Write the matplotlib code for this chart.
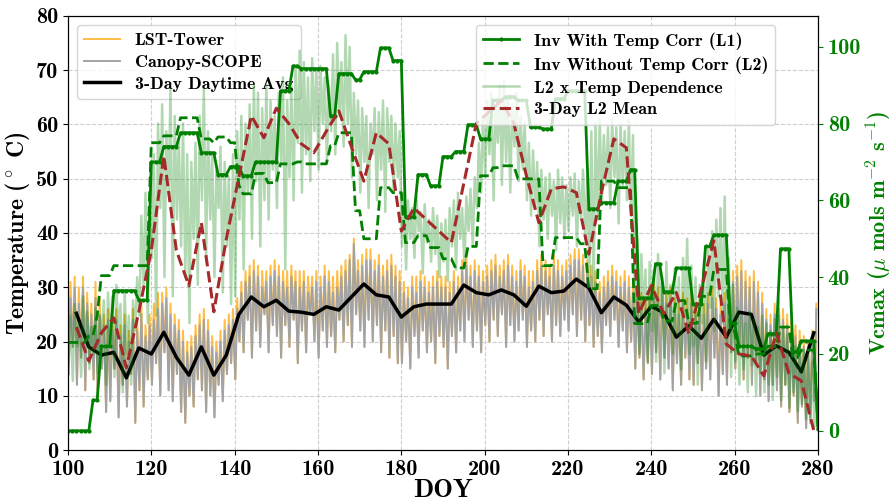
import numpy as np
import matplotlib
matplotlib.use("Agg")
import matplotlib.pyplot as plt

plt.rcParams['font.family'] = 'cmb10'
plt.rcParams['mathtext.fontset'] = 'cm'
plt.rcParams['axes.unicode_minus'] = False

# daily window DOY 100..279, one morning low and one midday high per day
days = np.arange(100, 280)

canopy_lo = [14, 19, 12, 17, 11, 16, 13, 10, 15, 7,
             9, 15, 6, 12, 8, 14, 5, 11, 8, 13,
             12, 16, 10, 18, 11, 9, 14, 7, 5, 10,
             8, 13, 11, 7, 10, 6, 12, 9, 14, 16,
             13, 20, 18, 24, 17, 22, 19, 25, 18, 23,
             21, 17, 23, 19, 24, 16, 22, 18, 25, 20,
             17, 22, 19, 21, 18, 24, 20, 23, 19, 25,
             22, 19, 24, 20, 23, 18, 22, 17, 21, 16,
             16, 20, 15, 21, 17, 22, 18, 20, 16, 21,
             19, 15, 21, 18, 22, 20, 24, 19, 22, 18,
             23, 20, 24, 21, 25, 19, 23, 20, 22, 24,
             19, 22, 20, 24, 21, 25, 20, 23, 21, 24,
             22, 25, 21, 24, 20, 23, 19, 21, 18, 23,
             21, 24, 19, 22, 18, 20, 15, 17, 13, 16,
             14, 18, 13, 17, 15, 11, 16, 12, 17, 13,
             12, 16, 11, 15, 13, 17, 10, 14, 12, 18,
             15, 19, 13, 17, 12, 16, 10, 13, 9, 12,
             11, 8, 12, 7, 10, 5, 8, 4, 6, 9]
canopy_hi = [28, 30, 27, 30, 27, 25, 28, 25, 23, 24,
             22, 24, 21, 23, 20, 24, 22, 25, 21, 23,
             24, 26, 27, 28, 25, 23, 22, 20, 18, 19,
             21, 23, 24, 22, 19, 18, 20, 22, 23, 24,
             26, 29, 31, 32, 33, 32, 30, 31, 32, 33,
             32, 31, 30, 32, 31, 30, 31, 29, 30, 31,
             30, 32, 31, 29, 30, 32, 33, 35, 38, 33,
             34, 35, 35, 33, 34, 32, 33, 34, 32, 31,
             29, 28, 30, 29, 31, 30, 29, 30, 31, 30,
             30, 29, 31, 30, 33, 34, 32, 33, 32, 31,
             32, 33, 34, 32, 33, 34, 32, 31, 33, 32,
             30, 31, 33, 34, 33, 32, 34, 33, 32, 33,
             34, 35, 35, 34, 33, 32, 31, 29, 30, 31,
             32, 31, 30, 31, 30, 29, 28, 27, 26, 28,
             29, 28, 30, 27, 28, 26, 25, 27, 26, 27,
             25, 26, 25, 27, 28, 26, 25, 27, 29, 31,
             32, 33, 31, 30, 31, 29, 27, 24, 23, 25,
             26, 24, 23, 22, 21, 20, 19, 18, 20, 26]
lst_hi = [31, 32, 30, 32, 29, 27, 31, 28, 25, 26,
          24, 26, 23, 25, 22, 26, 24, 27, 23, 25,
          27, 29, 29, 30, 27, 25, 24, 22, 20, 21,
          23, 25, 26, 24, 21, 20, 22, 24, 25, 26,
          28, 31, 33, 34, 35, 34, 33, 33, 34, 35,
          34, 33, 33, 34, 33, 33, 33, 32, 32, 33,
          32, 34, 33, 32, 33, 34, 35, 36, 39, 35,
          36, 37, 37, 35, 36, 34, 35, 36, 34, 33,
          31, 30, 32, 32, 33, 32, 31, 32, 33, 32,
          32, 31, 33, 32, 35, 36, 34, 35, 34, 33,
          34, 35, 36, 34, 35, 36, 34, 33, 35, 34,
          33, 33, 35, 36, 35, 34, 36, 35, 34, 35,
          36, 37, 37, 36, 35, 34, 33, 31, 32, 33,
          34, 33, 32, 33, 32, 31, 30, 29, 28, 30,
          31, 30, 32, 29, 30, 28, 27, 29, 28, 29,
          27, 28, 27, 29, 30, 28, 27, 29, 31, 33,
          34, 35, 33, 32, 33, 31, 29, 26, 25, 27,
          28, 26, 25, 24, 23, 22, 21, 20, 22, 27]

# 3-day means
avg_doy = np.arange(102, 280, 3)
avg_temp = [25.2, 19, 17.5, 18, 13.3, 18.8, 17.7, 21.7, 17.1, 13.8,
            19, 13.8, 17.5, 25, 28.2, 26.4, 27.6, 25.6, 25.4, 25,
            26.4, 25.8, 28.2, 30.6, 28.6, 28.2, 24.5, 26.4, 26.9, 26.9,
            26.9, 30.4, 29, 28.6, 29.5, 28.6, 26.5, 30.2, 29, 29.3,
            31.5, 29.9, 25.3, 28.2, 26.7, 23.6, 26.5, 25.3, 20.8, 22.9,
            20.6, 24.1, 20.8, 25.4, 25, 17.5, 19.2, 18, 14.4, 21.6]
l2_mean = [27, 18.2, 25.5, 29.4, 16.4, 31, 47, 71.6, 47, 37.8,
           54.2, 31, 50, 66, 82, 76.3, 84, 80, 74.7, 72.4,
           78, 83.3, 74, 65, 77.6, 74.7, 52, 58, 55, 52,
           49, 64.5, 80, 83, 86, 80, 66.5, 54.2, 63, 63.5,
           62, 46, 62, 76, 73.7, 30.5, 37.8, 30.5, 36, 25.3,
           37, 49.5, 22.6, 20, 19.5, 14.3, 25.5, 15, 13, 0]

# Vcmax inversions, DOY 100..280
vc_doy = np.arange(100, 281)
vc_l1 = [0, 0, 0, 0, 0, 0, 8, 8, 22, 22,
         22, 36.5, 36.5, 36.5, 36.5, 36.5, 36.5, 34, 34, 34,
         70, 70, 70, 74, 74, 74, 74, 77.6, 77.6, 77.6,
         77.6, 77.6, 72.4, 72.4, 72.4, 72.4, 66.7, 66.7, 66.7, 68.8,
         68.8, 68.8, 66.4, 66.4, 66.4, 70, 70, 70, 70, 70,
         70, 88.5, 88.5, 88.5, 95, 95, 94.3, 94.3, 94.3, 94.3,
         94.3, 94.3, 94.3, 82, 82, 93, 93, 93, 93, 91.4,
         91.4, 93.5, 93.5, 93.5, 93.5, 99.7, 99.7, 99.7, 96.4, 96.4,
         96.4, 55.7, 55.7, 55.7, 66.7, 66.7, 66.7, 63.8, 63.8, 63.8,
         71.4, 71.4, 71.4, 72.7, 72.7, 72.7, 79.7, 79.7, 79.7, 76,
         76, 76, 86, 86, 86, 87, 87, 87, 86, 86,
         86, 79, 79, 79, 78.6, 78.6, 78.6, 86.5, 86.5, 86.5,
         88.5, 88.5, 88.5, 88.5, 88.5, 57.8, 57.8, 57.8, 59.4, 59.4,
         59.4, 59.4, 65, 65, 65, 68, 68, 34.6, 34.6, 34.6,
         34.6, 43.5, 43.5, 36.2, 36.2, 36.2, 42.4, 42.4, 42.4, 42.4,
         33, 33, 33, 48, 48, 51, 51, 51, 51, 28,
         28, 22, 22, 22, 22, 21.4, 21.4, 21.4, 25.3, 25.3,
         25.3, 47.4, 47.4, 47.4, 20.6, 20.6, 23.4, 23.4, 23.4, 23.4,
         0.5]
vc_l2 = [23, 23, 23, 23, 23, 24.7, 24.7, 30, 40.4, 40.4,
         40.4, 43, 43, 43, 43, 43, 43, 43, 43, 43,
         75, 75, 75, 76.8, 76.8, 76.8, 76.8, 81.5, 81.5, 81.5,
         81.5, 81.5, 76, 76, 76, 75, 76.5, 76.5, 76.5, 75,
         75, 64, 61.7, 61.7, 61.7, 67, 67, 67, 64.6, 64.6,
         64.6, 69.5, 69.5, 69.5, 69.5, 70, 70, 69.5, 69.5, 69.5,
         69.5, 69.5, 69.5, 74.2, 74.2, 77.6, 77.6, 77.6, 77.6, 57.3,
         57.3, 50, 50, 50, 50, 63.3, 63.3, 63.3, 62, 62,
         62, 49, 49, 49, 50.8, 50.8, 50.8, 47.7, 47.7, 47.7,
         44.8, 44.8, 44.8, 42.4, 42.4, 42.4, 48, 48, 48, 66.4,
         66.4, 66.4, 68.5, 68.5, 69, 69, 69, 69, 65.6, 65.6,
         65.6, 65.6, 65.6, 65.6, 43, 43, 43, 50.3, 50.3, 50.3,
         50.3, 50.3, 50.3, 48.7, 48.7, 37, 37, 37, 65, 65,
         65, 65, 63.3, 63.3, 63.3, 63.3, 27.9, 27.9, 27.9, 27.9,
         32.6, 32.6, 32.6, 28.6, 28.6, 28.6, 33.9, 33.9, 33.9, 28,
         28, 28, 35, 35, 35, 42, 42, 42, 42, 26,
         26, 19.5, 19.5, 19.5, 19.5, 20, 20, 20, 22, 22,
         22, 27, 27, 27, 19, 19, 21, 21, 21, 21,
         1]
l2temp_lo = [18, 13, 22, 14, 24, 16, 20, 15, 25, 12,
             22, 14, 25, 10, 20, 12, 26, 30, 38, 28,
             45, 30, 58, 40, 62, 35, 55, 48, 40, 28,
             50, 38, 60, 45, 55, 40, 58, 36, 48, 33,
             35, 55, 42, 62, 50, 65, 48, 60, 55, 68,
             58, 70, 42, 66, 60, 75, 62, 72, 65, 78,
             68, 80, 70, 78, 72, 82, 74, 80, 66, 72,
             62, 70, 58, 72, 60, 68, 57, 70, 62, 66,
             48, 42, 50, 45, 52, 41, 49, 44, 46, 40,
             44, 39, 48, 42, 50, 43, 52, 48, 58, 62,
             66, 72, 60, 75, 64, 70, 62, 74, 65, 68,
             60, 56, 58, 48, 55, 50, 56, 47, 54, 50,
             52, 56, 48, 55, 50, 40, 36, 55, 60, 64,
             58, 66, 54, 64, 60, 56, 28, 20, 30, 18,
             26, 18, 30, 15, 28, 20, 25, 16, 30, 20,
             22, 12, 28, 18, 32, 26, 35, 28, 22, 14,
             18, 12, 16, 10, 17, 9, 15, 10, 12, 8,
             14, 8, 12, 6, 10, 5, 7, 3, 2, 1]
l2temp_hi = [30, 33, 28, 35, 31, 27, 32, 30, 34, 36,
             35, 38, 33, 36, 30, 34, 40, 56, 62, 58,
             72, 80, 85, 78, 89, 82, 76, 80, 72, 70,
             75, 82, 89, 78, 72, 68, 74, 70, 66, 72,
             78, 82, 80, 85, 90, 88, 84, 90, 86, 82,
             88, 92, 86, 90, 95, 99, 96, 92, 97, 94,
             95, 92, 90, 98, 101, 96, 103, 100, 88, 86,
             84, 82, 80, 84, 83, 86, 84, 82, 80, 78,
             62, 60, 58, 61, 57, 59, 55, 58, 56, 54,
             55, 58, 60, 62, 58, 61, 63, 66, 75, 82,
             86, 88, 84, 90, 91, 87, 85, 88, 82, 80,
             75, 73, 70, 68, 66, 67, 65, 68, 66, 64,
             66, 67, 65, 68, 66, 78, 80, 81, 77, 79,
             81, 79, 80, 78, 81, 77, 50, 46, 42, 44,
             42, 46, 40, 44, 38, 42, 40, 45, 50, 43,
             40, 38, 44, 48, 52, 55, 58, 61, 45, 38,
             32, 30, 28, 31, 29, 27, 30, 28, 26, 29,
             30, 27, 25, 24, 22, 23, 21, 20, 18, 15]

t_half = np.column_stack([days + 0.15, days + 0.6]).ravel()
canopy = np.column_stack([canopy_lo, canopy_hi]).ravel()
lst = np.column_stack([canopy_lo, lst_hi]).ravel()
l2temp = np.column_stack([l2temp_lo, l2temp_hi]).ravel()

fig, ax1 = plt.subplots(figsize=(8.93, 5.03), dpi=100)
fig.subplots_adjust(left=68/893, right=818/893, bottom=1-450/503, top=1-16/503)

ax1.plot(t_half, lst, color='#ffbd45', lw=1.4, label='LST-Tower')
ax1.plot(t_half, canopy, color='#a3a3a3', lw=1.4, label='Canopy-SCOPE')
ax1.plot(avg_doy, avg_temp, color='black', lw=2.5, label='3-Day Daytime Avg')
ax1.set_xlim(100, 280)
ax1.set_ylim(0, 80)
ax1.set_xticks(np.arange(100, 281, 20))
ax1.grid(True, linestyle='--', alpha=0.6)
ax1.set_xlabel('DOY', fontsize=19, labelpad=0)
ax1.set_ylabel(r'Temperature ($^\circ$ C)', fontsize=17, labelpad=3)
ax1.tick_params(labelsize=16)

ax2 = ax1.twinx()
h_tmp, = ax2.plot(t_half, l2temp, color='green', alpha=0.3, lw=1.8, label='L2 x Temp Dependence')
h_l1, = ax2.plot(vc_doy, vc_l1, color='green', lw=2, marker='o', ms=2, label='Inv With Temp Corr (L1)')
h_l2, = ax2.plot(vc_doy, vc_l2, color='green', lw=2, ls='--', label='Inv Without Temp Corr (L2)')
h_mean, = ax2.plot(avg_doy, l2_mean, color='brown', lw=2.2, ls='--', label='3-Day L2 Mean')
ax2.set_ylim(-5, 108)
ax2.set_ylabel(r'Vcmax ($\mu$ mols m$^{-2}$ s$^{-1}$)', fontsize=16, color='green', labelpad=3)
ax2.tick_params(axis='y', labelsize=16, colors='green')

ax1.legend(loc='upper left', fontsize=13, labelspacing=0.35)
ax2.legend(handles=[h_l1, h_l2, h_tmp, h_mean], loc='upper right',
           bbox_to_anchor=(0.955, 1.0), fontsize=13, labelspacing=0.35)

plt.savefig('out.png', dpi=100)
